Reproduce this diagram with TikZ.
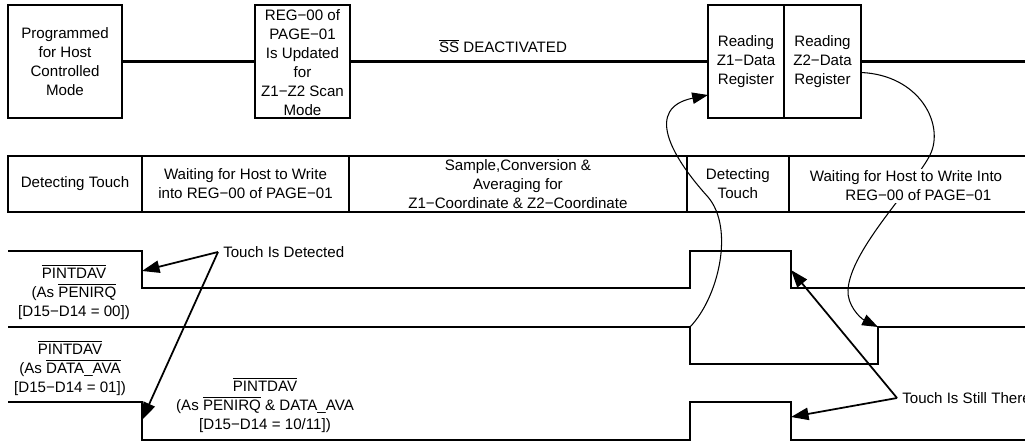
\documentclass[tikz,border=0pt]{standalone}
\usepackage{fontspec}
\setmainfont{Liberation Sans}
\usetikzlibrary{positioning,arrows.meta}

\begin{document}
\begin{tikzpicture}[x=0.02cm, y=-0.02cm,
  every node/.style={font=\fontsize{8.6}{10.8}\selectfont, align=center, inner sep=0pt, outer sep=0pt},
  stepbox/.style={draw, line width=1.4pt, minimum height=2.26cm},
  cell/.style={draw, line width=1.4pt, minimum height=1.12cm},
  callout/.style={anchor=west, outer sep=3pt},
  wave/.style={line width=1.4pt},
  pointer/.style={line width=1pt, -{Triangle[length=10pt,width=7pt]}},
  swoop/.style={line width=0.6pt, -{Triangle[length=9pt,width=6.5pt]}}]
  \useasboundingbox (0,0) rectangle (1025,442);

  % host side steps
  \node[stepbox, minimum width=2.28cm] (prog) at (65,61.5) {Programmed\\for Host\\Controlled\\Mode};
  \node[stepbox, minimum width=1.9cm] (regupd) at (302.5,61.5) {};
  \node (regtxt) at ([yshift=-0.03cm]regupd) {\fontsize{8.6}{10}\selectfont REG−00 of\\PAGE−01\\Is Updated\\for\\Z1−Z2 Scan\\Mode};
  \node[stepbox, minimum width=1.52cm] (rdzone) at (746,61.5) {Reading\\Z1−Data\\Register};
  \node[stepbox, minimum width=1.54cm, right=0pt of rdzone] (rdztwo) {Reading\\Z2−Data\\Register};
  \coordinate (topend) at (1025,61.5);
  \draw[wave] (prog) -- (regupd);
  \draw[wave] (regupd) -- (rdzone);
  \draw[wave] (rdztwo) -- (topend);
  \node (ss) at (503,46) {$\overline{\mbox{SS}}$ DEACTIVATED};

  % device states
  \node[cell, minimum width=2.68cm] (detA) at (75,184) {Detecting Touch};
  \node[cell, minimum width=4.14cm, right=0pt of detA] (waitA) {Waiting for Host to Write\\into REG−00 of PAGE−01};
  \node[cell, minimum width=6.76cm, right=0pt of waitA] (conv) {Sample,Conversion \&\\Averaging for\\Z1−Coordinate \& Z2−Coordinate};
  \node[cell, minimum width=2.04cm, right=0pt of conv] (detB) {Detecting\\Touch};
  \coordinate (rowend) at (1025,184);
  \draw[wave] (detB.north east) -- (detB.north east -| rowend);
  \draw[wave] (detB.south east) -- (detB.south east -| rowend);

  % PINTDAV as PENIRQ
  \draw[wave] (8,251) -- (142,251) -- (142,288) -- (690,288) -- (690,251) -- (791,251) -- (791,288) -- (1025,288);
  % PINTDAV as DATA_AVA
  \draw[wave] (8,327) -- (690,327) -- (690,364) -- (878,364) -- (878,327) -- (1025,327);
  % PINTDAV as PENIRQ & DATA_AVA
  \draw[wave] (8,402) -- (142,402) -- (142,440) -- (690,440) -- (690,402) -- (791,402) -- (791,440) -- (1025,440);

  \node (lblA) at (74,292) {$\overline{\mbox{PINTDAV}}$\\(As $\overline{\mbox{PENIRQ}}$\\{}[D15−D14 = 00])};
  \node (lblB) at (70,368) {$\overline{\mbox{PINTDAV}}$\\(As $\overline{\mbox{DATA\_AVA}}$\\{}[D15−D14 = 01])};
  \node (lblC) at (265,405) {$\overline{\mbox{PINTDAV}}$\\(As $\overline{\mbox{PENIRQ}}$ \& DATA\_AVA\\{}[D15−D14 = 10/11])};

  % touch callouts
  \node[callout] (det) at (218,252) {Touch Is Detected};
  \coordinate (hitA) at (142,271);
  \coordinate (hitC) at (142,420);
  \draw[pointer] (det.west) -- (hitA);
  \draw[pointer] (det.west) -- (hitC);
  \node[callout] (still) at (897,398) {Touch Is Still There};
  \coordinate (hitB) at (791,270);
  \coordinate (hitD) at (791,417);
  \draw[pointer] (still.west) -- (hitB);
  \draw[pointer] (still.west) -- (hitD);

  % read back loops
  \coordinate (riseA) at (690,327);
  \coordinate (riseB) at (878,327);
  \draw[swoop] (riseA) .. controls (718,298) and (735,229) .. (708,197)
    .. controls (670,155) and (645,108) .. ([yshift=0.46cm]rdzone.south west);
  \draw[swoop] ([yshift=-0.22cm]rdztwo.east) .. controls (920,75) and (945,125) .. (930,155)
    .. controls (915,185) and (850,250) .. (848,290) .. controls (847,305) and (860,318) .. (riseB);
  \node[fill=white, inner sep=1pt] (waitB) at (906,186) {Waiting for Host to Write Into\\\hspace*{14pt}REG−00 of PAGE−01};
\end{tikzpicture}
\end{document}
